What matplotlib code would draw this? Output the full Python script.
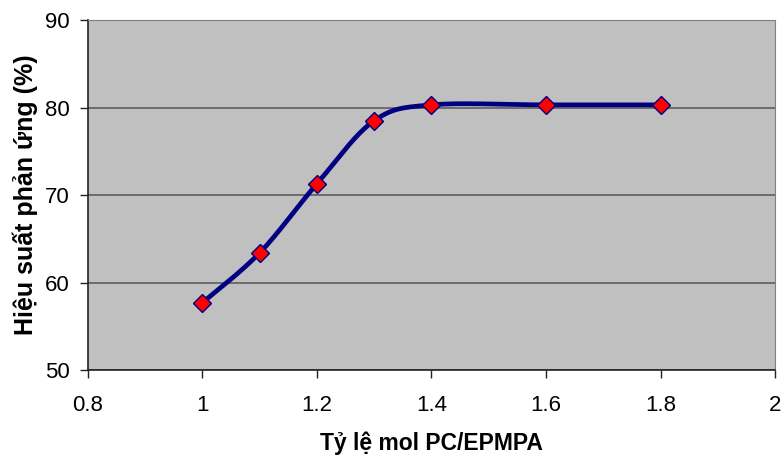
import matplotlib
matplotlib.use("Agg")
import matplotlib.pyplot as plt
import numpy as np

# molar ratio PC/EPMPA vs reaction yield (%)
ratio = [1.0, 1.1, 1.2, 1.3, 1.4, 1.6, 1.8]
yield_pct = [57.7, 63.4, 71.3, 78.5, 80.3, 80.3, 80.3]

x_ticks = [0.8, 1, 1.2, 1.4, 1.6, 1.8, 2]
x_tick_labels = ["0.8", "1", "1.2", "1.4", "1.6", "1.8", "2"]
y_ticks = [50, 60, 70, 80, 90]

plt.rcParams['font.family'] = ['Liberation Sans', 'DejaVu Sans']


def smooth_curve(xs, ys, n=40):
    """Excel-like smoothed line: cubic Bezier through the points,
    control points from Catmull-Rom tangents (1/6 of neighbour span)"""
    p = np.column_stack([xs, ys]).astype(float)
    out = []
    for i in range(len(p) - 1):
        p0 = p[i - 1] if i > 0 else p[i]
        p1 = p[i]
        p2 = p[i + 1]
        p3 = p[i + 2] if i + 2 < len(p) else p[i + 1]
        c1 = p1 + (p2 - p0) / 6
        c2 = p2 - (p3 - p1) / 6
        t = np.linspace(0, 1, n)[:, None]
        seg = ((1 - t) ** 3 * p1 + 3 * (1 - t) ** 2 * t * c1
               + 3 * (1 - t) * t ** 2 * c2 + t ** 3 * p2)
        out.append(seg if i == 0 else seg[1:])
    out = np.vstack(out)
    return out[:, 0], out[:, 1]


fig = plt.figure(figsize=(7.84, 4.65), dpi=100)
ax = fig.add_axes([88 / 784, 1 - 370 / 465, 687 / 784, 350 / 465])
ax.set_facecolor("#c0c0c0")

ax.set_xlim(0.8, 2)
ax.set_ylim(50, 90)
ax.set_xticks(x_ticks)
ax.set_xticklabels(x_tick_labels)
ax.set_yticks(y_ticks)

ax.grid(axis="y", color="#555555", linewidth=1.1)
ax.set_axisbelow(True)

sx, sy = smooth_curve(ratio, yield_pct)
ax.plot(sx, sy, color="#000080", linewidth=3.4, solid_capstyle="round",
        zorder=3)
ax.plot(ratio, yield_pct, linestyle="none", marker="D", markersize=9,
        markerfacecolor="#ff0000", markeredgecolor="#000080",
        markeredgewidth=1.0, zorder=4)

for side in ["top", "right"]:
    ax.spines[side].set_color("#808080")
for side in ["left", "bottom"]:
    ax.spines[side].set_color("#222222")
    ax.spines[side].set_linewidth(1.2)

ax.tick_params(axis="x", direction="out", length=6, width=1, pad=12,
               labelsize=16, colors="#222222", labelcolor="black")
ax.tick_params(axis="y", direction="out", length=6, width=1, pad=7,
               labelsize=16, colors="#222222", labelcolor="black")

ax.set_xlabel("Tỷ lệ mol PC/EPMPA", fontsize=16.5, fontweight="bold",
              labelpad=11)
ax.set_ylabel("Hiệu suất phản ứng (%)", fontsize=18, fontweight="bold",
              labelpad=5)

fig.savefig("out.png", dpi=100, facecolor="white")
